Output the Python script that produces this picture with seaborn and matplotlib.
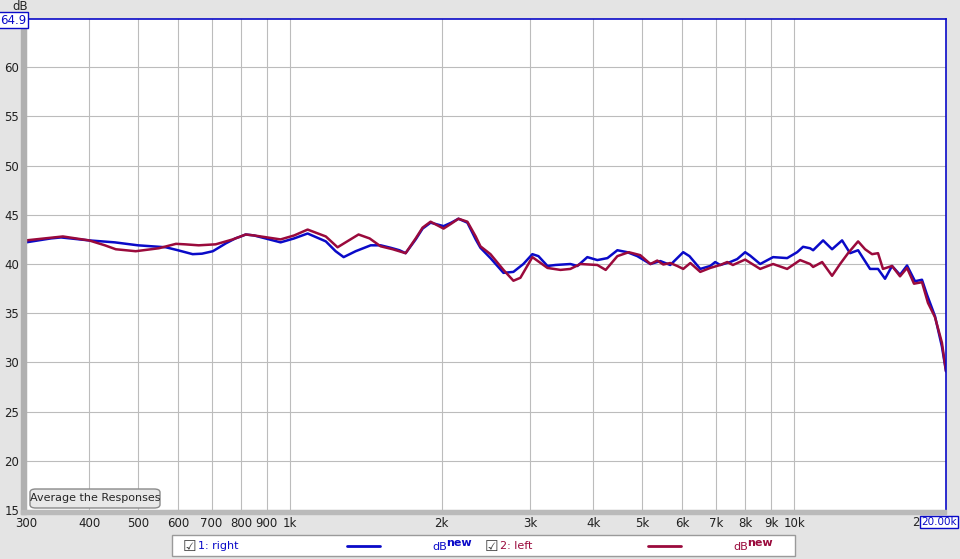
import numpy as np
import pandas as pd
import seaborn as sns
import matplotlib.pyplot as plt
from matplotlib.patches import Rectangle, FancyBboxPatch
from matplotlib.ticker import FixedLocator, NullLocator

freq_right = [300, 336, 352, 400, 450, 500, 568, 600, 642, 670, 704, 747, 780, 800, 818,
              850, 959, 1020, 1085, 1179, 1233, 1279, 1351, 1447, 1514, 1585, 1650, 1697,
              1777, 1834, 1902, 2018, 2090, 2160, 2250, 2337, 2388, 2500, 2653, 2776,
              2905, 3027, 3112, 3243, 3363, 3601, 3718, 3890, 4072, 4264, 4462, 4669,
              4887, 5188, 5428, 5680, 6027, 6200, 6514, 6817, 6974, 7135, 7467, 7710,
              7995, 8180, 8563, 9083, 9685, 10137, 10416, 10754, 10905, 11412, 11889,
              12445, 12908, 13389, 13697, 14140, 14665, 15140, 15632, 16214, 16740,
              17362, 17924, 18331, 19018, 19632, 20000]
db_right = [42.2, 42.6, 42.7, 42.4, 42.2, 41.9, 41.7, 41.4, 41.0, 41.05, 41.3, 42.1, 42.6,
            42.8, 43.0, 42.9, 42.2, 42.6, 43.1, 42.3, 41.3, 40.7, 41.3, 41.9, 41.9, 41.65,
            41.4, 41.1, 42.5, 43.6, 44.2, 43.85, 44.2, 44.6, 44.2, 42.5, 41.65, 40.6,
            39.1, 39.2, 40.0, 41.0, 40.8, 39.8, 39.9, 40.0, 39.8, 40.7, 40.4, 40.6,
            41.4, 41.2, 40.8, 40.0, 40.3, 39.9, 41.2, 40.8, 39.5, 39.8, 40.2, 39.9,
            40.2, 40.5, 41.2, 40.85, 40.0, 40.7, 40.6, 41.2, 41.75, 41.6, 41.4, 42.4,
            41.5, 42.4, 41.1, 41.4, 40.6, 39.5, 39.5, 38.5, 39.8, 38.9, 39.85,
            38.25, 38.4, 36.9, 34.7, 31.6, 29.1]

freq_left = [300, 355, 400, 430, 452, 495, 550, 595, 620, 660, 713, 771, 818, 850, 959,
             1020, 1085, 1179, 1244, 1300, 1369, 1440, 1514, 1600, 1697, 1777, 1834,
             1902, 2018, 2090, 2160, 2250, 2337, 2388, 2500, 2653, 2776, 2866, 3027,
             3243, 3441, 3600, 3768, 4072, 4230, 4462, 4700, 4953, 5188, 5353, 5502,
             5680, 5865, 6027, 6225, 6514, 6817, 7135, 7366, 7560, 7995, 8563, 9083,
             9685, 10276, 10754, 10905, 11362, 11889, 12332, 12790, 13389, 13824,
             14269, 14665, 15000, 15632, 16214, 16740, 17283, 17924, 18419, 19018,
             19632, 20000]
db_left = [42.4, 42.8, 42.4, 41.9, 41.5, 41.3, 41.6, 42.05, 42.0, 41.9, 42.0, 42.5, 43.0,
           42.9, 42.5, 42.9, 43.5, 42.8, 41.7, 42.3, 43.0, 42.6, 41.8, 41.5, 41.1, 42.6,
           43.7, 44.3, 43.6, 44.1, 44.6, 44.3, 42.8, 41.8, 41.0, 39.4, 38.3, 38.6,
           40.7, 39.6, 39.4, 39.5, 40.0, 39.9, 39.4, 40.8, 41.2, 40.9, 40.0, 40.35,
           39.95, 40.1, 39.8, 39.5, 40.1, 39.2, 39.6, 39.9, 40.2, 39.9, 40.45, 39.5,
           40.0, 39.5, 40.4, 40.0, 39.7, 40.2, 38.8, 40.0, 41.1, 42.3, 41.5, 41.0,
           41.1, 39.5, 39.8, 38.75, 39.6, 38.0, 38.15, 36.05, 34.6, 32.0, 29.1]

x_ticks = [300, 400, 500, 600, 700, 800, 900, 1000, 2000, 3000, 4000, 5000,
           6000, 7000, 8000, 9000, 10000]
x_tick_labels = ['300', '400', '500', '600', '700', '800', '900', '1k', '2k', '3k',
                 '4k', '5k', '6k', '7k', '8k', '9k', '10k']
y_ticks = [15, 20, 25, 30, 35, 40, 45, 50, 55, 60]

BLUE = '#0a0ac8'
RED = '#9a0a3c'
W, H = 960, 559


def px(x, y):
    return x / W, 1 - y / H


df = pd.concat([
    pd.DataFrame({'freq': freq_right, 'dB': db_right, 'channel': '1: right'}),
    pd.DataFrame({'freq': freq_left, 'dB': db_left, 'channel': '2: left'}),
])

sns.set_style('white')
plt.rcParams['font.family'] = ['DejaVu Sans']

fig = plt.figure(figsize=(9.6, 5.59), dpi=100, facecolor='#e4e4e4')
l, b = px(26, 510)
r, t = px(946, 19)
ax = fig.add_axes([l, b, r - l, t - b])
ax.set_facecolor('white')

sns.lineplot(data=df, x='freq', y='dB', hue='channel',
             palette={'1: right': BLUE, '2: left': RED},
             estimator=None, sort=False, legend=False, linewidth=1.8, ax=ax)

ax.set_xscale('log')
ax.set_xlim(300, 20000)
ax.set_ylim(15, 64.9)
ax.xaxis.set_major_locator(FixedLocator(x_ticks))
ax.xaxis.set_minor_locator(NullLocator())
ax.set_xticklabels(x_tick_labels)
ax.set_yticks(y_ticks)
ax.set_yticklabels([str(v) for v in y_ticks])
ax.tick_params(length=0, labelsize=8.5, colors='#202020', pad=5)
ax.grid(True, color='#bcbcbc', linewidth=0.8)
ax.set_xlabel('')
ax.set_ylabel('')

for side in ['left', 'bottom']:
    ax.spines[side].set_visible(False)
for side in ['right', 'top']:
    ax.spines[side].set_color(BLUE)
    ax.spines[side].set_linewidth(1.2)

# shadow edges of the plot panel
x0, y0 = px(21, 514)
fig.patches.append(Rectangle((x0, y0), 5 / W, (514 - 19) / H, transform=fig.transFigure,
                             color='#b0b0b0', zorder=0))
fig.patches.append(Rectangle((x0, y0), (946 - 21) / W, 4 / H, transform=fig.transFigure,
                             color='#bababa', zorder=0))

# axis annotations
fig.text(*px(12, 7), 'dB', fontsize=8.5, va='center', ha='left')
fig.text(*px(13, 20), '64.9', fontsize=8.5, color=BLUE, va='center', ha='center',
         bbox=dict(boxstyle='square,pad=0.12', fc='white', ec=BLUE, lw=1))
fig.text(*px(916, 522), '2', fontsize=8.5, va='center', ha='center')
fig.text(*px(957, 522), '20.00k', fontsize=7.5, color=BLUE, va='center', ha='right',
         bbox=dict(boxstyle='square,pad=0.1', fc='white', ec=BLUE, lw=1))

# button
bx, by = px(30, 508)
fig.patches.append(FancyBboxPatch((bx, by), 130 / W, 19 / H,
                                  boxstyle='round,pad=0,rounding_size=0.006',
                                  transform=fig.transFigure, fc='#e8e8e8', ec='#8a8a8a',
                                  lw=1, zorder=5))
fig.text(*px(95, 498), 'Average the Responses', fontsize=8, ha='center', va='center',
         zorder=6)

# legend strip
lx, ly = px(172, 556)
fig.patches.append(Rectangle((lx, ly), (795 - 172) / W, 21 / H, transform=fig.transFigure,
                             fc='white', ec='#9a9a9a', lw=1, zorder=5))
entries = [(183, '1: right', BLUE, 347, 432), (485, '2: left', RED, 648, 733)]
for cx, label, col, line_x, db_x in entries:
    fig.text(*px(cx, 546), '\u2611', fontsize=11, ha='left', va='center', color='#404040',
             zorder=6)
    fig.text(*px(cx + 15, 546), label, fontsize=8, ha='left', va='center', color=col,
             zorder=6)
    fig.lines.append(plt.Line2D([line_x / W, (line_x + 33) / W], [1 - 546 / H] * 2,
                                transform=fig.transFigure, color=col, lw=2, zorder=6))
    fig.text(*px(db_x, 547), 'dB', fontsize=8, ha='left', va='center', color=col, zorder=6)
    fig.text(*px(db_x + 14, 543), 'new', fontsize=8, ha='left', va='center', color=col,
             zorder=6, fontweight='bold')

fig.savefig('out.png', dpi=100, facecolor=fig.get_facecolor())
